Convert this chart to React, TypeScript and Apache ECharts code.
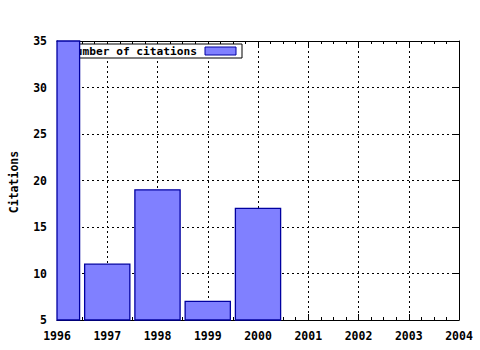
import React, { useEffect, useRef } from "react";
import * as echarts from "echarts";

const years = [1996, 1997, 1998, 1999, 2000];
const citations = [38, 11, 19, 7, 17];
const legendLabel = "Number of citations";
const yTitle = "Citations";

const FONT = "'DejaVu Sans Mono', monospace";

export default function App() {
  const ref = useRef<HTMLDivElement>(null);
  useEffect(() => {
    const chart = echarts.init(ref.current!, null, { renderer: "svg" });
    const axisCommon = {
      type: "value" as const,
      axisLine: { show: true, lineStyle: { color: "#000", width: 1 } },
      axisTick: { show: true, inside: true, length: 6, lineStyle: { color: "#000" } },
    };
    chart.setOption({
      animation: false,
      backgroundColor: "#fff",
      grid: { left: 57, right: 21, top: 41, bottom: 30 },
      xAxis: [
        {
          ...axisCommon,
          position: "bottom",
          min: 1996,
          max: 2004,
          interval: 1,
          axisLabel: {
            show: true,
            color: "#000",
            fontFamily: FONT,
            fontWeight: "bold",
            fontSize: 11.5,
            margin: 10,
            formatter: (v: number) => String(v),
          },
          minorTick: { show: true, splitNumber: 4, length: 3, lineStyle: { color: "#000" } },
          splitLine: { show: true, lineStyle: { color: "#000", type: [2, 3], width: 1 } },
        },
        {
          ...axisCommon,
          position: "top",
          min: 1996,
          max: 2004,
          interval: 1,
          axisLabel: { show: false },
          minorTick: { show: true, splitNumber: 4, length: 3, lineStyle: { color: "#000" } },
          splitLine: { show: false },
        },
      ],
      yAxis: [
        {
          ...axisCommon,
          position: "left",
          min: 5,
          max: 35,
          interval: 5,
          axisLabel: {
            show: true,
            color: "#000",
            fontFamily: FONT,
            fontWeight: "bold",
            fontSize: 11.5,
            margin: 10,
          },
          splitLine: { show: true, lineStyle: { color: "#000", type: [2, 3], width: 1 } },
        },
        {
          ...axisCommon,
          position: "right",
          min: 5,
          max: 35,
          interval: 5,
          axisLabel: { show: false },
          splitLine: { show: false },
        },
      ],
      graphic: [
        {
          type: "text",
          x: 14,
          y: 182,
          rotation: Math.PI / 2,
          style: {
            text: yTitle,
            fill: "#000",
            font: `bold 11.5px ${FONT}`,
            align: "center",
            verticalAlign: "middle",
          },
        },
        {
          type: "group",
          z: 1,
          children: [
            {
              type: "rect",
              shape: { x: 58, y: 44, width: 184, height: 14 },
              style: { fill: "#fff", stroke: "#000", lineWidth: 1 },
              z: 1,
            },
            {
              type: "text",
              x: 197,
              y: 51,
              z: 1,
              style: {
                text: legendLabel,
                fill: "#000",
                font: `bold 11.2px ${FONT}`,
                align: "right",
                verticalAlign: "middle",
              },
            },
            {
              type: "rect",
              shape: { x: 205, y: 47, width: 31, height: 8 },
              style: { fill: "#8080ff", stroke: "#0000a0", lineWidth: 1 },
              z: 1,
            },
          ],
        },
      ],
      series: [
        {
          type: "custom",
          z: 5,
          xAxisIndex: 0,
          yAxisIndex: 0,
          data: years.map((y, i) => [y, citations[i]]),
          renderItem: (params: any, api: any) => {
            const x = api.value(0);
            const v = api.value(1);
            const p0 = api.coord([x - 0.45, v]);
            const p1 = api.coord([x + 0.45, 5]);
            const shape = echarts.graphic.clipRectByRect(
              { x: p0[0], y: p0[1], width: p1[0] - p0[0], height: p1[1] - p0[1] },
              {
                x: params.coordSys.x,
                y: params.coordSys.y,
                width: params.coordSys.width,
                height: params.coordSys.height,
              }
            );
            if (!shape) return null;
            return {
              type: "rect",
              shape,
              style: { fill: "#8080ff", stroke: "#0000a0", lineWidth: 1.3 },
            };
          },
        },
      ],
    });
    return () => chart.dispose();
  }, []);
  return <div ref={ref} style={{ width: 480, height: 350, position: "absolute", left: 0, top: 0 }} />;
}
